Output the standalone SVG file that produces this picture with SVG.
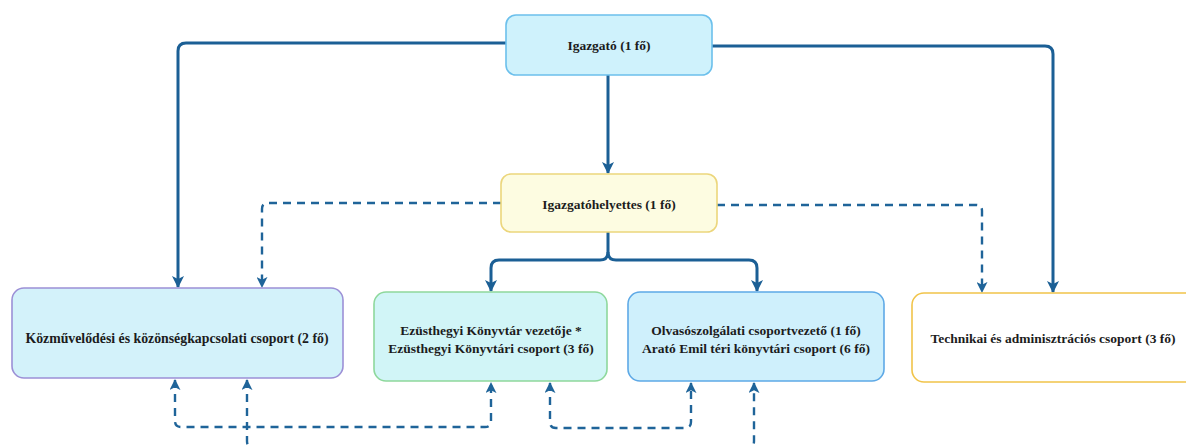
<svg xmlns="http://www.w3.org/2000/svg" width="1186" height="445" viewBox="0 0 1186 445">
<defs>
<style>
.box{stroke-width:1.6}
text{font-family:'Liberation Serif','DejaVu Serif',serif;font-weight:bold;font-size:13.5px;fill:#1c1c1c;text-anchor:middle}
.solid{fill:none;stroke:#1b5f95;stroke-width:3}
.dash{fill:none;stroke:#1f6499;stroke-width:2.4;stroke-dasharray:8 6}
</style>
<marker id="a" viewBox="0 0 12 12" refX="11" refY="6" markerWidth="12" markerHeight="12" markerUnits="userSpaceOnUse" orient="auto-start-reverse">
<path d="M0,0 L12,6 L0,12 L3,6 z" fill="#1b5f95"/>
</marker>
<marker id="d" viewBox="0 0 12 12" refX="11" refY="6" markerWidth="11" markerHeight="11" markerUnits="userSpaceOnUse" orient="auto-start-reverse">
<path d="M0,0 L12,6 L0,12 L3,6 z" fill="#1f6499"/>
</marker>
</defs>
<rect width="1186" height="445" fill="#ffffff"/>
<g id="connectors">
<path class="solid" d="M506,43 H186 Q178,43 178,51 V287" marker-end="url(#a)"/>
<path class="solid" d="M712,46 H1045 Q1053,46 1053,54 V292" marker-end="url(#a)"/>
<path class="solid" d="M608,75 V173" marker-end="url(#a)"/>
<path class="solid" d="M608,232 V252 Q608,260 600,260 H499 Q491,260 491,268 V291" marker-end="url(#a)"/>
<path class="solid" d="M608,252 Q608,260 616,260 H749 Q757,260 757,268 V291" marker-end="url(#a)"/>
<path class="dash" d="M501,203 H268 Q262,203 262,209 V287" marker-end="url(#d)"/>
<path class="dash" d="M717,205 H976 Q982,205 982,211 V292" marker-end="url(#d)"/>
<path class="dash" d="M175,380 V421 Q175,427 181,427 H485 Q491,427 491,421 V383" marker-start="url(#d)" marker-end="url(#d)"/>
<path class="dash" d="M550,383 V422 Q550,428 556,428 H685 Q691,428 691,422 V383" marker-start="url(#d)" marker-end="url(#d)"/>
<path class="dash" d="M247,380 V441 Q247,448 254,448 H747 Q754,448 754,441 V383" marker-start="url(#d)" marker-end="url(#d)"/>
</g>
<g id="igazgato">
<rect class="box" x="506" y="15" width="206" height="60" rx="10" fill="#cff2fc" stroke="#6cc0ec"/>
<text x="609" y="50">Igazgató (1 fő)</text>
</g>
<g id="helyettes">
<rect class="box" x="501" y="174" width="216" height="58" rx="10" fill="#fdfce1" stroke="#ecd67c"/>
<text x="609" y="209">Igazgatóhelyettes (1 fő)</text>
</g>
<g id="kozmuvelodesi">
<rect class="box" x="12" y="288" width="331" height="90" rx="12" fill="#d3f2fa" stroke="#9c90d6"/>
<text x="177" y="343" style="font-size:13.8px">Közművelődési és közönségkapcsolati csoport (2 fő)</text>
</g>
<g id="ezusthegyi">
<rect class="box" x="374" y="292" width="233" height="89" rx="12" fill="#d1f5f7" stroke="#8ed89c"/>
<text x="491" y="335">Ezüsthegyi Könyvtár vezetője *</text>
<text x="491" y="353">Ezüsthegyi Könyvtári csoport (3 fő)</text>
</g>
<g id="olvaso">
<rect class="box" x="628" y="292" width="256" height="89" rx="12" fill="#cff0fc" stroke="#5ea9e6"/>
<text x="756" y="335">Olvasószolgálati csoportvezető (1 fő)</text>
<text x="756" y="353">Arató Emil téri könyvtári csoport (6 fő)</text>
</g>
<g id="technikai">
<rect class="box" x="912" y="293" width="290" height="89" rx="12" fill="#ffffff" stroke="#f1c44a"/>
<text x="1053" y="343">Technikai és adminisztrációs csoport (3 fő)</text>
</g>
</svg>
